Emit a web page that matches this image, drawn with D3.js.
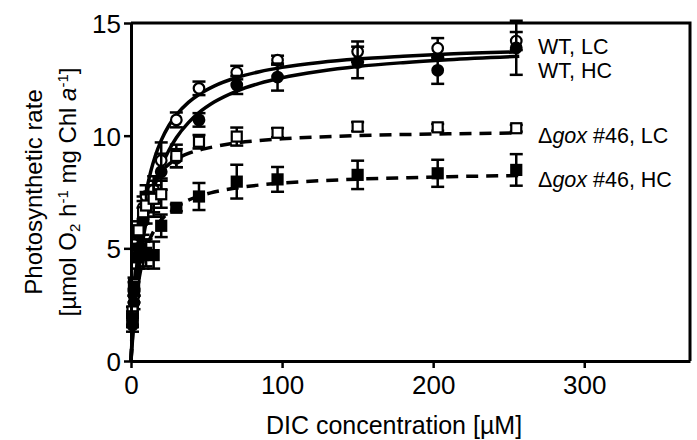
<!DOCTYPE html>
<html>
<head>
<meta charset="utf-8">
<script src="https://cdn.jsdelivr.net/npm/d3@7"></script>
<style>
  body { margin: 0; background: #fff; }
  svg { font-family: "Liberation Sans", Arial, sans-serif; }
</style>
</head>
<body>
<div class="grafico"></div>
<script>
// DIC concentrations (µM) of the measured points
var dic = [1, 2, 5, 8, 10, 15, 20, 30, 45, 70, 97, 150, 203, 255];

// measured rates and SD for every strain / condition
var wtLC = [1.8, 2.9, 5.6, 6.8, 7.3, 7.6, 8.9, 10.7, 12.1, 12.8, 13.35, 13.73, 13.88, 14.2];
var wtLCerr = [0.3, 0.3, 0.4, 0.5, 0.5, 0.6, 0.8, 0.33, 0.3, 0.3, 0.2, 0.45, 0.45, 0.4];
var wtHC = [1.6, 2.6, 5.0, 6.2, 6.8, 7.2, 8.4, 9.0, 10.7, 12.25, 12.6, 13.25, 12.9, 13.9];
var wtHCerr = [0.3, 0.3, 0.5, 0.6, 0.7, 0.8, 0.8, 0.4, 0.3, 0.4, 0.6, 0.7, 0.6, 1.2];
var goxLC = [2.2, 3.4, 5.8, 6.6, 6.9, 7.2, 7.4, 9.1, 9.73, 9.96, 10.13, 10.4, 10.37, 10.33];
var goxLCerr = [0.2, 0.3, 0.4, 0.5, 0.5, 0.6, 0.6, 0.5, 0.3, 0.4, 0.2, 0.2, 0.15, 0.15];
var goxHC = [1.9, 3.2, 4.6, 4.7, 4.8, 4.7, 6.0, 6.8, 7.3, 7.96, 8.06, 8.26, 8.33, 8.48];
var goxHCerr = [0.3, 0.3, 0.5, 0.6, 0.6, 0.6, 0.5, 0.15, 0.6, 0.75, 0.55, 0.63, 0.6, 0.7];

// fitted curves
var fitX = [0, 1, 2, 4, 6, 8, 10, 13, 16, 20, 25, 30, 38, 45, 55, 70, 85, 100, 125, 150, 180, 210, 257];
var fitWtLC = [0, 1.42, 2.58, 4.37, 5.68, 6.68, 7.47, 8.39, 9.09, 9.79, 10.44, 10.92, 11.48, 11.83, 12.2, 12.58, 12.84, 13.03, 13.25, 13.4, 13.52, 13.62, 13.72];
var fitWtHC = [0, 0.95, 1.89, 3.34, 4.48, 5.41, 6.17, 7.1, 7.83, 8.61, 9.34, 9.91, 10.58, 11.02, 11.49, 11.98, 12.32, 12.57, 12.86, 13.07, 13.24, 13.37, 13.52];
var fitGoxLC = [0, 1.87, 3.17, 4.85, 5.89, 6.59, 7.1, 7.65, 8.04, 8.41, 8.73, 8.96, 9.21, 9.36, 9.51, 9.68, 9.78, 9.86, 9.94, 10.0, 10.05, 10.08, 10.12];
var fitGoxHC = [0, 1.06, 1.88, 3.07, 3.9, 4.51, 4.97, 5.49, 5.88, 6.26, 6.6, 6.85, 7.14, 7.31, 7.5, 7.68, 7.81, 7.9, 8.0, 8.07, 8.13, 8.18, 8.23];

var xTicks = [0, 100, 200, 300];
var yTicks = [0, 5, 10, 15];

var width = 697, height = 440;
var plot = { left: 131, right: 690, top: 23, bottom: 361 };

var svg = d3.select(".grafico").append("svg")
  .attr("width", width)
  .attr("height", height);

var x = d3.scaleLinear().domain([0, 370]).range([plot.left, plot.right]);
var y = d3.scaleLinear().domain([0, 15]).range([plot.bottom, plot.top]);

// fit lines
var line = d3.line()
  .x(function (d) { return x(d[0]); })
  .y(function (d) { return y(d[1]); })
  .curve(d3.curveMonotoneX);

var fits = [
  { v: fitWtLC, dash: null },
  { v: fitWtHC, dash: null },
  { v: fitGoxLC, dash: "12,8" },
  { v: fitGoxHC, dash: "12,8" }
];
fits.forEach(function (f) {
  svg.append("path")
    .datum(fitX.map(function (d, i) { return [d, f.v[i]]; }))
    .attr("d", line)
    .attr("fill", "none")
    .attr("stroke", "#000")
    .attr("stroke-width", 3.5)
    .attr("stroke-dasharray", f.dash);
});

// series with points
var series = [
  { v: wtLC, e: wtLCerr, shape: "circle", fill: "#fff" },
  { v: wtHC, e: wtHCerr, shape: "circle", fill: "#000" },
  { v: goxLC, e: goxLCerr, shape: "square", fill: "#fff" },
  { v: goxHC, e: goxHCerr, shape: "square", fill: "#000" }
];

series.forEach(function (s) {
  var pts = dic.map(function (d, i) { return { d: d, v: s.v[i], e: s.e[i] }; });
  var g = svg.append("g");
  var eb = g.selectAll(".eb").data(pts).enter().append("g")
    .attr("stroke", "#000").attr("stroke-width", 2.5);
  eb.append("line")
    .attr("x1", function (p) { return x(p.d); })
    .attr("x2", function (p) { return x(p.d); })
    .attr("y1", function (p) { return y(p.v + p.e); })
    .attr("y2", function (p) { return y(p.v - p.e); });
  [1, -1].forEach(function (sg) {
    eb.append("line")
      .attr("x1", function (p) { return x(p.d) - 6.5; })
      .attr("x2", function (p) { return x(p.d) + 6.5; })
      .attr("y1", function (p) { return y(p.v + sg * p.e); })
      .attr("y2", function (p) { return y(p.v + sg * p.e); });
  });
  if (s.shape === "circle") {
    g.selectAll(".dot").data(pts).enter().append("circle")
      .attr("cx", function (p) { return x(p.d); })
      .attr("cy", function (p) { return y(p.v); })
      .attr("r", 5.3)
      .attr("fill", s.fill)
      .attr("stroke", "#000")
      .attr("stroke-width", 2.2);
  } else {
    g.selectAll(".sq").data(pts).enter().append("rect")
      .attr("x", function (p) { return x(p.d) - 5; })
      .attr("y", function (p) { return y(p.v) - 5; })
      .attr("width", 10)
      .attr("height", 10)
      .attr("fill", s.fill)
      .attr("stroke", "#000")
      .attr("stroke-width", 2.2);
  }
});

// axes
var xAxis = svg.append("g")
  .attr("transform", "translate(0," + plot.bottom + ")")
  .call(d3.axisBottom(x).tickValues(xTicks).tickSize(7).tickPadding(2).tickSizeOuter(0));
var yAxis = svg.append("g")
  .attr("transform", "translate(" + plot.left + ",0)")
  .call(d3.axisLeft(y).tickValues(yTicks).tickSize(7).tickPadding(3).tickSizeOuter(0));
[xAxis, yAxis].forEach(function (a) {
  a.select(".domain").attr("stroke-width", 3);
  a.selectAll(".tick line").attr("stroke-width", 2.5);
  a.selectAll("text").attr("font-size", 26).attr("font-family", "Liberation Sans, Arial, sans-serif").attr("fill", "#000");
});
xAxis.selectAll("text").attr("dy", "0.92em");
yAxis.selectAll("text").attr("dy", "0.36em");

// box frame
svg.append("path")
  .attr("d", "M" + plot.left + "," + plot.top + "H" + plot.right + "V" + plot.bottom)
  .attr("fill", "none")
  .attr("stroke", "#000")
  .attr("stroke-width", 3);

// axis titles
svg.append("text")
  .attr("x", 394)
  .attr("y", 434)
  .attr("text-anchor", "middle")
  .attr("font-size", 25)
  .text("DIC concentration [µM]");

var yl = svg.append("g")
  .attr("transform", "translate(0," + ((plot.top + plot.bottom) / 2) + ") rotate(-90)")
  .attr("font-size", 24);
yl.append("text")
  .attr("x", 0).attr("y", 42)
  .attr("text-anchor", "middle")
  .text("Photosynthetic rate");
var t2 = yl.append("text")
  .attr("x", 0).attr("y", 76)
  .attr("text-anchor", "middle");
t2.append("tspan").text("[µmol O");
t2.append("tspan").attr("font-size", 15).attr("baseline-shift", "-25%").text("2");
t2.append("tspan").text(" h");
t2.append("tspan").attr("font-size", 15).attr("baseline-shift", "55%").text("-1");
t2.append("tspan").text(" mg Chl ");
t2.append("tspan").attr("font-style", "italic").text("a");
t2.append("tspan").attr("font-size", 15).attr("baseline-shift", "55%").text("-1");
t2.append("tspan").text("]");

// labels at line ends
var labels = [
  { y: 13.95, parts: [["WT, LC", false]] },
  { y: 12.9, parts: [["WT, HC", false]] },
  { y: 10.0, parts: [["\u0394", false], ["gox", true], [" #46, LC", false]] },
  { y: 8.05, parts: [["\u0394", false], ["gox", true], [" #46, HC", false]] }
];
labels.forEach(function (l) {
  var t = svg.append("text")
    .attr("x", 538)
    .attr("y", y(l.y) + 7.5)
    .attr("font-size", 21.5);
  l.parts.forEach(function (p) {
    t.append("tspan").attr("font-style", p[1] ? "italic" : null).text(p[0]);
  });
});
</script>
</body>
</html>
